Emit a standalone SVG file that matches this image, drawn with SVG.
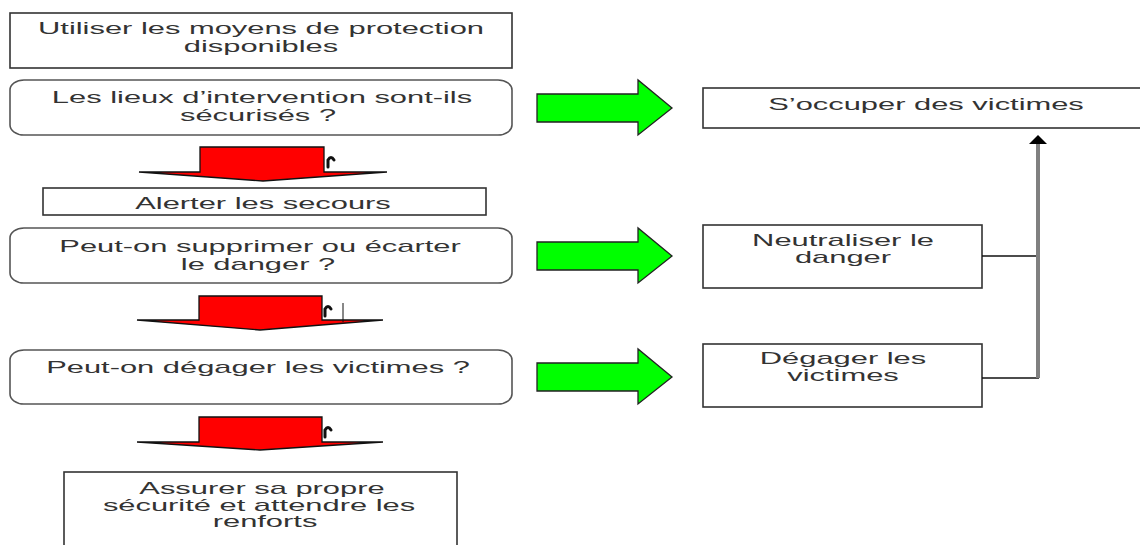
<svg xmlns="http://www.w3.org/2000/svg" width="1140" height="545" viewBox="0 0 1140 545">
<defs>
<style>
.box{fill:#fff;stroke:#333;stroke-width:1.6}
.rbox{fill:#fff;stroke:#555;stroke-width:1.6}
.t{font-family:"Liberation Sans",Arial,sans-serif;font-size:16px;fill:#333;text-anchor:middle}
.red{fill:#ff0000;stroke:#111;stroke-width:1.3;stroke-linejoin:miter}
.green{fill:#00ff00;stroke:#222;stroke-width:1.3}
.link{stroke:#111;stroke-width:1.5;fill:none}
.cur{stroke:#111;stroke-width:3;fill:none;stroke-linecap:round}
</style>
<polygon id="garrow" points="0,-14 101,-14 101,-28 135,0 101,27 101,14 0,14"/>
</defs>
<rect width="1140" height="545" fill="#fff"/>

<g id="n1"><rect class="box" x="10" y="13" width="502" height="55"/>
<text class="t" transform="translate(261 34) scale(1.93 1)">Utiliser les moyens de protection</text>
<text class="t" transform="translate(261 52) scale(1.93 1)">disponibles</text></g>

<g id="n2"><rect class="rbox" x="10" y="80" width="502" height="55" rx="14" ry="10"/>
<text class="t" transform="translate(262 103) scale(1.93 1)">Les lieux d’intervention sont-ils</text>
<text class="t" transform="translate(258 121) scale(1.93 1)">sécurisés ?</text></g>

<g id="n3"><rect class="box" x="43" y="188" width="443" height="27"/>
<text class="t" transform="translate(263 209) scale(1.93 1)">Alerter les secours</text></g>

<g id="n4"><rect class="rbox" x="10" y="228" width="502" height="55" rx="14" ry="10"/>
<text class="t" transform="translate(260 252) scale(1.93 1)">Peut-on supprimer ou écarter</text>
<text class="t" transform="translate(258 270) scale(1.93 1)">le danger ?</text></g>

<g id="n5"><rect class="rbox" x="10" y="350" width="502" height="54" rx="14" ry="10"/>
<text class="t" transform="translate(258 373) scale(1.93 1)">Peut-on dégager les victimes ?</text></g>

<g id="n6"><rect class="box" x="64" y="472" width="393" height="80"/>
<text class="t" transform="translate(262 494) scale(1.93 1)">Assurer sa propre</text>
<text class="t" transform="translate(259 511) scale(1.93 1)">sécurité et attendre les</text>
<text class="t" transform="translate(265 527) scale(1.93 1)">renforts</text></g>

<g id="n7"><rect class="box" x="703" y="88" width="445" height="40"/>
<text class="t" transform="translate(926 110) scale(1.93 1)">S’occuper des victimes</text></g>

<g id="n8"><rect class="box" x="703" y="225" width="279" height="63"/>
<text class="t" transform="translate(843 246) scale(1.93 1)">Neutraliser le</text>
<text class="t" transform="translate(843 263) scale(1.93 1)">danger</text></g>

<g id="n9"><rect class="box" x="703" y="344" width="279" height="63"/>
<text class="t" transform="translate(843 364) scale(1.93 1)">Dégager les</text>
<text class="t" transform="translate(843 381) scale(1.93 1)">victimes</text></g>

<g id="connectors">
<polygon class="red" points="200,147 324,147 324,172 387,172 263,181 139,172 200,172"/>
<polygon class="red" points="199,296 322,296 322,320 383,320 260,330 137,320 199,320"/>
<polygon class="red" points="199,417 322,417 322,442 383,442 260,450 137,442 199,442"/>
<path class="cur" d="M328,167 L328,160 Q331,155 334,160"/>
<path class="cur" d="M325,316 L325,309 Q328,304 331,309"/>
<path class="cur" d="M325,437 L325,430 Q328,425 331,430"/>
<line x1="343" y1="303" x2="343" y2="322" stroke="#111" stroke-width="1"/>
<use href="#garrow" class="green" x="537" y="108"/>
<use href="#garrow" class="green" x="537" y="256"/>
<use href="#garrow" class="green" x="537" y="377"/>
<line x1="982" y1="256" x2="1039" y2="256" class="link"/>
<line x1="982" y1="378" x2="1039" y2="378" class="link"/>
<line x1="1038" y1="143" x2="1038" y2="378" stroke="#808080" stroke-width="4"/>
<polygon points="1038,135 1047,144 1029,144" fill="#000"/>
</g>
</svg>
